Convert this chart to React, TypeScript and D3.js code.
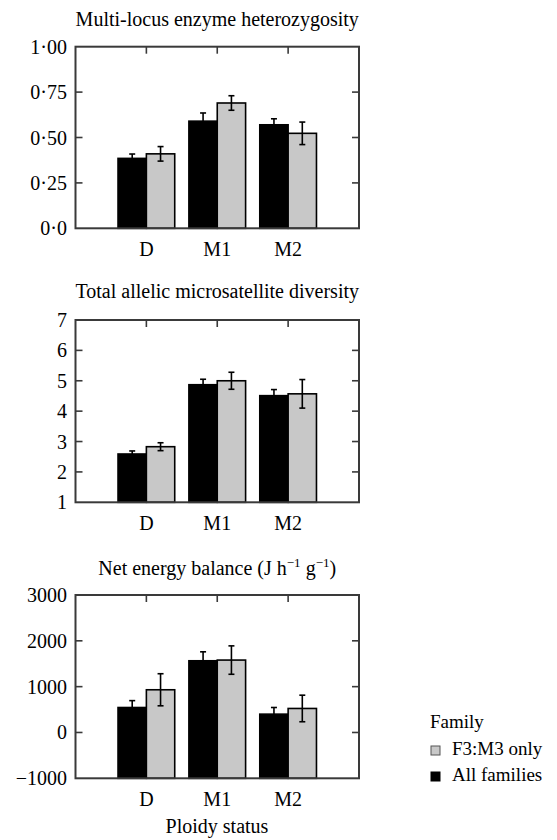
import * as d3 from "d3";
import React from "react";

// ploidy groups and the two family series
const groups = ["D", "M1", "M2"];
const seriesKeys = ["all", "f3"];
const seriesLabels = { all: "All families", f3: "F3:M3 only" };
const seriesFill = { all: "#000000", f3: "#c8c8c8" };

// panel 1 – multi-locus enzyme heterozygosity
const hetAll = [0.385, 0.59, 0.57];
const hetAllErr = [0.024, 0.045, 0.033];
const hetF3 = [0.41, 0.69, 0.523];
const hetF3Err = [0.04, 0.04, 0.062];
const hetTicks = [0, 0.25, 0.5, 0.75, 1];
const hetTickLabels = ["0·0", "0·25", "0·50", "0·75", "1·00"];

// panel 2 – total allelic microsatellite diversity
const divAll = [2.59, 4.87, 4.51];
const divAllErr = [0.1, 0.18, 0.2];
const divF3 = [2.83, 5.0, 4.57];
const divF3Err = [0.13, 0.28, 0.47];
const divTicks = [1, 2, 3, 4, 5, 6, 7];
const divTickLabels = ["1", "2", "3", "4", "5", "6", "7"];

// panel 3 – net energy balance
const nebAll = [545, 1565, 400];
const nebAllErr = [150, 195, 145];
const nebF3 = [932, 1580, 524];
const nebF3Err = [350, 310, 290];
const nebTicks = [-1000, 0, 1000, 2000, 3000];
const nebTickLabels = ["\u22121000", "0", "1000", "2000", "3000"];

const FONT = "'Liberation Serif', 'Times New Roman', serif";
const X0 = 75.5;
const X1 = 359;
const FRAME = "#3a3a3a";

type PanelProps = {
  top: number;
  bottom: number;
  domain: [number, number];
  ticks: number[];
  tickLabels: string[];
  all: number[];
  allErr: number[];
  f3: number[];
  f3Err: number[];
  title: React.ReactNode;
  titleY: number;
};

const Panel = ({ top, bottom, domain, ticks, tickLabels, all, allErr, f3, f3Err, title, titleY }: PanelProps) => {
  const step = (X1 - X0) / 4;
  const x = d3.scalePoint<string>().domain(groups).range([X0 + step, X1 - step]);
  const inner = d3.scaleBand<string>().domain(seriesKeys).range([-step * 0.4, step * 0.4]);
  const y = d3.scaleLinear().domain(domain).range([bottom, top]);
  const vals: Record<string, number[]> = { all, f3 };
  const errs: Record<string, number[]> = { all: allErr, f3: f3Err };
  const tickLen = 7;

  return (
    <g>
      <text x={(X0 + X1) / 2} y={titleY} textAnchor="middle" fontSize={20}>
        {title}
      </text>
      {groups.map((g, i) =>
        seriesKeys.map((k) => {
          const bx = (x(g) as number) + (inner(k) as number);
          const v = vals[k][i];
          const e = errs[k][i];
          const cx = bx + inner.bandwidth() / 2;
          return (
            <g key={g + k}>
              <rect
                x={bx}
                y={y(v)}
                width={inner.bandwidth()}
                height={y(domain[0]) - y(v)}
                fill={seriesFill[k as "all" | "f3"]}
                stroke="#000"
                strokeWidth={1.6}
              />
              <line x1={cx} x2={cx} y1={y(v - e)} y2={y(v + e)} stroke="#000" strokeWidth={1.6} />
              <line x1={cx - 3} x2={cx + 3} y1={y(v + e)} y2={y(v + e)} stroke="#000" strokeWidth={1.6} />
              <line x1={cx - 3} x2={cx + 3} y1={y(v - e)} y2={y(v - e)} stroke="#000" strokeWidth={1.6} />
            </g>
          );
        })
      )}
      {/* frame */}
      <rect x={X0} y={top} width={X1 - X0} height={bottom - top} fill="none" stroke={FRAME} strokeWidth={2} />
      {/* y ticks, inward on both sides */}
      {ticks.map((t, i) => (
        <g key={"t" + t}>
          {i > 0 && i < ticks.length - 1 && (
            <>
              <line x1={X0} x2={X0 + tickLen} y1={y(t)} y2={y(t)} stroke={FRAME} strokeWidth={1.6} />
              <line x1={X1} x2={X1 - tickLen} y1={y(t)} y2={y(t)} stroke={FRAME} strokeWidth={1.6} />
            </>
          )}
          <text x={67} y={y(t)} dy="0.35em" textAnchor="end" fontSize={20}>
            {tickLabels[i]}
          </text>
        </g>
      ))}
      {/* x ticks on top edge */}
      {groups.map((g) => (
        <line key={"xt" + g} x1={x(g)} x2={x(g)} y1={top} y2={top + tickLen} stroke={FRAME} strokeWidth={1.6} />
      ))}
      {groups.map((g) => (
        <text key={"xl" + g} x={x(g)} y={bottom + 28} textAnchor="middle" fontSize={20}>
          {g}
        </text>
      ))}
    </g>
  );
};

const sup = (s: string) => (
  <tspan fontSize={13} dy={-8}>
    {s}
  </tspan>
);

export default function App() {
  return (
    <svg width={557} height={840} style={{ display: "block", position: "absolute", left: 0, top: 0 }} fontFamily={FONT}>
      <rect width={557} height={840} fill="#fff" />
      <Panel
        top={46.7}
        bottom={228.3}
        domain={[0, 1]}
        ticks={hetTicks}
        tickLabels={hetTickLabels}
        all={hetAll}
        allErr={hetAllErr}
        f3={hetF3}
        f3Err={hetF3Err}
        title="Multi-locus enzyme heterozygosity"
        titleY={26}
      />
      <Panel
        top={320}
        bottom={502.3}
        domain={[1, 7]}
        ticks={divTicks}
        tickLabels={divTickLabels}
        all={divAll}
        allErr={divAllErr}
        f3={divF3}
        f3Err={divF3Err}
        title="Total allelic microsatellite diversity"
        titleY={298}
      />
      <Panel
        top={595}
        bottom={778.3}
        domain={[-1000, 3000]}
        ticks={nebTicks}
        tickLabels={nebTickLabels}
        all={nebAll}
        allErr={nebAllErr}
        f3={nebF3}
        f3Err={nebF3Err}
        title={
          <>
            Net energy balance (J h{sup("\u22121")}
            <tspan dy={8}> g</tspan>
            {sup("\u22121")}
            <tspan dy={8}>)</tspan>
          </>
        }
        titleY={575}
      />
      <text x={217} y={833} textAnchor="middle" fontSize={20}>
        Ploidy status
      </text>
      {/* legend */}
      <g fontSize={19}>
        <text x={430} y={728}>Family</text>
        {["f3", "all"].map((k, i) => (
          <g key={k}>
            <rect
              x={431}
              y={746 + i * 26}
              width={9}
              height={9}
              fill={seriesFill[k as "all" | "f3"]}
              stroke={k === "f3" ? "#555" : "#000"}
              strokeWidth={1}
            />
            <text x={452} y={755 + i * 26}>
              {seriesLabels[k as "all" | "f3"]}
            </text>
          </g>
        ))}
      </g>
    </svg>
  );
}
